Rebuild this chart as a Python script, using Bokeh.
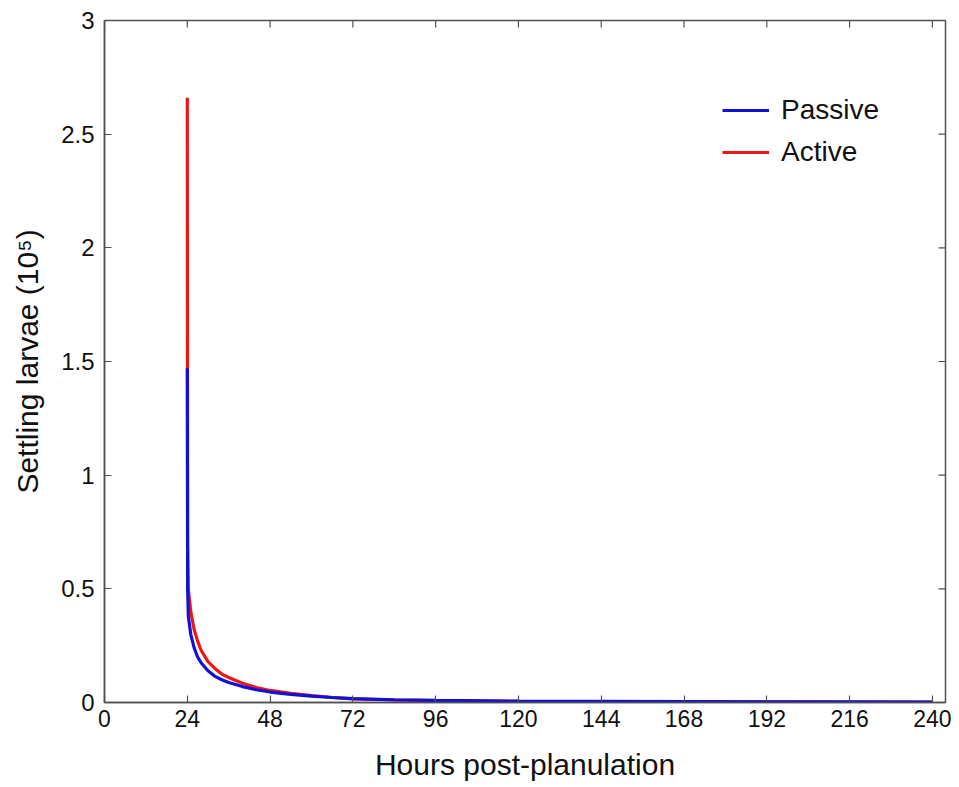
import math
from bokeh.plotting import figure
from bokeh.models import Range1d, Legend, LegendItem, FixedTicker
from bokeh.embed import file_html
from bokeh.resources import INLINE

hours = [24, 24, 24.1, 24.3, 25, 26, 27, 28, 30, 32, 34, 36, 40, 44, 48, 54, 60, 66, 72, 84, 96, 120, 144, 168, 192, 216, 240]
passive = [1.47, 1.47, 0.50, 0.38, 0.30, 0.24, 0.20, 0.175, 0.14, 0.115, 0.10, 0.088, 0.07, 0.056, 0.046, 0.036, 0.028, 0.022, 0.017, 0.012, 0.009, 0.006, 0.005, 0.004, 0.003, 0.003, 0.002]
active = [2.66, 2.66, 0.70, 0.50, 0.40, 0.32, 0.27, 0.23, 0.18, 0.15, 0.125, 0.11, 0.085, 0.066, 0.053, 0.040, 0.030, 0.022, 0.016, 0.011, 0.008, 0.005, 0.004, 0.003, 0.003, 0.002, 0.002]
x_ticks = [0, 24, 48, 72, 96, 120, 144, 168, 192, 216, 240]
y_ticks = [0, 0.5, 1, 1.5, 2, 2.5, 3]

FONT = "Liberation Sans"
AXC = "#505050"
X_MAX = 243.8
Y_MAX = 3

p = figure(width=959, height=787, output_backend="svg", toolbar_location=None,
           x_range=Range1d(0, X_MAX), y_range=Range1d(0, Y_MAX),
           min_border_left=104, min_border_right=14, min_border_top=20, min_border_bottom=85)
p.xgrid.visible = False
p.ygrid.visible = False
p.outline_line_color = AXC
p.outline_line_width = 1.5

r_act = p.line(hours, active, line_color="#ee1515", line_width=3.2)
r_pas = p.line(hours, passive, line_color="#1010d8", line_width=3.2)

# mirrored inward ticks on top and right edges (clipped to the frame)
p.scatter(x_ticks, [Y_MAX] * len(x_ticks), marker="dash", size=14, angle=math.pi / 2,
          line_color=AXC, line_width=1.2)
p.scatter([X_MAX] * len(y_ticks), y_ticks, marker="dash", size=14,
          line_color=AXC, line_width=1.2)

for ax in (p.xaxis[0], p.yaxis[0]):
    ax.axis_line_color = AXC
    ax.axis_line_width = 1.5
    ax.major_tick_line_color = AXC
    ax.major_tick_line_width = 1.2
    ax.major_tick_in = 7
    ax.major_tick_out = 0
    ax.minor_tick_line_color = None
    ax.major_label_text_font = FONT
    ax.major_label_text_color = "#111111"
    ax.axis_label_text_font = FONT
    ax.axis_label_text_font_size = "30px"
    ax.axis_label_text_font_style = "normal"
    ax.axis_label_text_color = "#111111"

p.xaxis.ticker = FixedTicker(ticks=x_ticks)
p.yaxis.ticker = FixedTicker(ticks=y_ticks)
p.xaxis.axis_label = "Hours post-planulation"
p.yaxis.axis_label = "Settling larvae (10\u2075)"
p.xaxis.major_label_text_font_size = "23px"
p.yaxis.major_label_text_font_size = "24px"
p.xaxis.major_label_standoff = 7
p.yaxis.major_label_standoff = 10
p.xaxis.axis_label_standoff = 18
p.yaxis.axis_label_standoff = 14

legend = Legend(items=[LegendItem(label="Passive", renderers=[r_pas]),
                       LegendItem(label="Active", renderers=[r_act])],
                location=(618, 534))
legend.border_line_color = None
legend.background_fill_alpha = 0
legend.label_text_font = FONT
legend.label_text_font_size = "28px"
legend.label_text_color = "#111111"
legend.glyph_width = 47
legend.spacing = 10
legend.label_standoff = 12
p.add_layout(legend)

open("out.html", "w").write(file_html(p, INLINE))
